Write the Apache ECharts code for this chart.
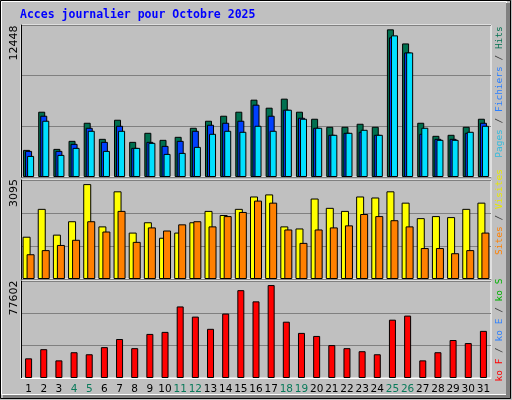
<!DOCTYPE html><html><head><meta charset="utf-8">
<script src="https://cdn.jsdelivr.net/npm/echarts@6/dist/echarts.min.js"></script>
<style>html,body{margin:0;padding:0;background:#fff}#c{width:512px;height:400px}</style></head><body><div id="c"></div>
<script>
const days=['1','2','3','4','5','6','7','8','9','10','11','12','13','14','15','16','17','18','19','20','21','22','23','24','25','26','27','28','29','30','31'];
const weekend=['4','5','11','12','18','19','25','26'];
const hits=[2221,5347,2303,2961,4442,3126,4689,2879,3619,3044,3290,4031,4607,5018,5347,6334,5676,6416,5347,4771,4113,4113,4360,4113,12092,10940,4442,3373,3455,4113,4771];
const files=[2139,5018,2139,2715,4031,2879,4195,2386,2879,2550,2961,3784,4278,4442,4607,5923,5018,5511,4853,4031,3455,3619,3702,3455,11434,10200,3537,3126,3126,3619,4442];
const pages=[1727,4607,1810,2386,3784,2139,3784,2386,2797,1892,1974,2468,3537,3784,3702,4195,3784,5511,4771,4031,3455,3619,3866,3455,11599,10200,4031,3044,3044,3702,4195];
const visits=[1322,2193,1387,1806,2967,1645,2741,1451,1774,1290,1451,1774,2129,2000,2193,2580,2645,1645,1580,2516,2225,2129,2580,2548,2741,2387,1903,1967,1935,2193,2387];
const sites=[774,903,1064,1226,1806,1484,2129,1161,1613,1516,1709,1806,1645,1967,2096,2451,2387,1548,1129,1548,1613,1677,2032,1967,1838,1645,968,968,806,903,1451];
const kb=[15737,23062,14108,20620,18993,24690,31200,23875,35270,36900,57250,49110,39340,51550,70270,61320,74340,45040,36080,33640,26320,23875,21430,18993,46660,49920,14108,20620,30390,27940,37710];
const maxLabels=['12448','3095','77602'];
const title='Acces journalier pour Octobre 2025';

const ch=echarts.init(document.getElementById('c'));
const grids=[{left:21,width:470,top:25,height:152},{left:21,width:470,top:180,height:99},{left:21,width:470,top:281,height:97}];
const maxes=maxLabels.map(Number);
const bs={borderColor:'#000',borderWidth:1};
function xa(i){return {gridIndex:i,type:'category',data:days,axisTick:{show:false},axisLine:{show:i==2,lineStyle:{color:'#fff'}},
 axisLabel:{show:i==2,margin:6,fontFamily:'DejaVu Sans',fontSize:10.5,interval:0,color:v=>weekend.includes(v)?'#0a7a5a':'#000'}};}
function ya(i){return {gridIndex:i,min:0,max:maxes[i],splitNumber:3,interval:maxes[i]/3,axisLabel:{show:false},axisTick:{show:false},
 axisLine:{show:true,lineStyle:{color:'#000'}},splitLine:{lineStyle:{color:'#808080',width:1}}};}
const F='9.5px "DejaVu Sans Mono"';
function vt(x,y,parts){return {type:'text',x:x,y:y,rotation:Math.PI/2,style:{text:parts,rich:rich,font:F,align:'center',verticalAlign:'middle'}};}
const rich={p:{fill:'#33bbdd',font:F},f:{fill:'#2a7fff',font:F},h:{fill:'#007050',font:F},
 s:{fill:'#ff8000',font:F},v:{fill:'#e8e800',font:F},k:{fill:'#404040',font:F},
 r:{fill:'#ff0000',font:F},b:{fill:'#2a7fff',font:F},g:{fill:'#00b000',font:F}};
ch.setOption({animation:false,backgroundColor:'#c0c0c0',
 grid:grids.map(g=>Object.assign({show:true,backgroundColor:'#c0c0c0',borderColor:'#fff',borderWidth:1},g)),
 xAxis:[xa(0),xa(1),xa(2)],yAxis:[ya(0),ya(1),ya(2)],
 series:[
  {type:'bar',xAxisIndex:0,yAxisIndex:0,data:hits,barWidth:7,barGap:'-71%',itemStyle:Object.assign({color:'#007050'},bs)},
  {type:'bar',xAxisIndex:0,yAxisIndex:0,data:files,barWidth:7,barGap:'-71%',itemStyle:Object.assign({color:'#0040ff'},bs)},
  {type:'bar',xAxisIndex:0,yAxisIndex:0,data:pages,barWidth:7,barGap:'-71%',itemStyle:Object.assign({color:'#00e0ff'},bs)},
  {type:'bar',xAxisIndex:1,yAxisIndex:1,data:visits,barWidth:8,barGap:'-50%',itemStyle:Object.assign({color:'#ffff00'},bs)},
  {type:'bar',xAxisIndex:1,yAxisIndex:1,data:sites,barWidth:8,barGap:'-50%',itemStyle:Object.assign({color:'#ff8000'},bs)},
  {type:'bar',xAxisIndex:2,yAxisIndex:2,data:kb,barWidth:7,itemStyle:Object.assign({color:'#ff0000'},bs)}
 ],
 graphic:[
  {type:'rect',shape:{x:0.5,y:0.5,width:510,height:398},style:{fill:'none',stroke:'#000',lineWidth:1}},
  {type:'rect',shape:{x:1.5,y:1.5,width:505,height:393},style:{fill:'none',stroke:'#fff',lineWidth:1}},
  {type:'rect',shape:{x:506,y:3,width:4,height:395},style:{fill:'#808080'}},
  {type:'rect',shape:{x:3,y:395,width:507,height:3},style:{fill:'#808080'}},
  {type:'text',x:20,y:15,style:{text:title,fill:'#0000ff',font:'bold 11.5px "DejaVu Sans Mono"',verticalAlign:'middle'}},
  {type:'text',x:14,y:43,rotation:Math.PI/2,style:{text:maxLabels[0],fill:'#000',font:'11px "DejaVu Sans"',align:'center',verticalAlign:'middle'}},
  {type:'text',x:14,y:193,rotation:Math.PI/2,style:{text:maxLabels[1],fill:'#000',font:'11px "DejaVu Sans"',align:'center',verticalAlign:'middle'}},
  {type:'text',x:14,y:298,rotation:Math.PI/2,style:{text:maxLabels[2],fill:'#000',font:'11px "DejaVu Sans"',align:'center',verticalAlign:'middle'}},
  vt(500,92,'{p|Pages} {k|/} {f|Fichiers} {k|/} {h|Hits}'),
  vt(500,212,'{s|Sites} {k|/} {v|Visites}'),
  vt(500,330,'{r|ko F} {k|/} {b|ko E} {k|/} {g|ko S}')
 ]});
</script></body></html>
